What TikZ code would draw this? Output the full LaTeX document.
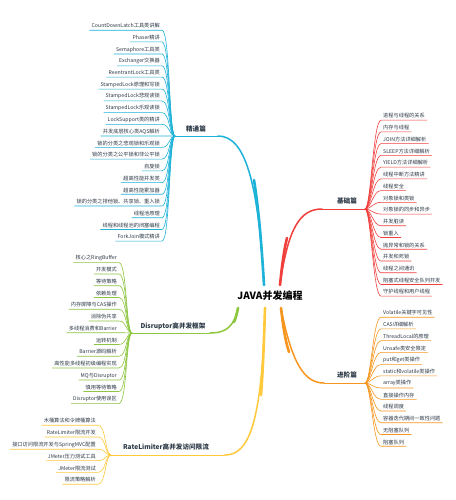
\documentclass[tikz,border=0pt]{standalone}
\usepackage{fontspec}
\setmainfont{Noto Sans CJK SC}
\definecolor{cblue}{HTML}{1DB2D8}
\definecolor{cred}{HTML}{F0403C}
\definecolor{corange}{HTML}{F7961E}
\definecolor{cgreen}{HTML}{8DC63F}
\definecolor{cyellow}{HTML}{FFC93C}
\definecolor{ctext}{HTML}{2E3A48}
\tikzset{
  itembox/.style={inner xsep=2pt,inner ysep=1.6pt,text=ctext,font=\fontsize{5.2}{6}\selectfont},
  labelbox/.style={inner sep=1pt,text=ctext,font=\fontsize{6.6}{8}\selectfont\bfseries},
  rootbox/.style={inner sep=1pt,text=black,font=\fontsize{10}{12}\selectfont\bfseries},
  itemline/.style={line width=0.6pt},
  mainline/.style={line width=1.5pt,line cap=round},
  thickpart/.style={line width=2.6pt,line cap=round},
  subline/.style={line width=0.9pt}
}
\begin{document}
\begin{tikzpicture}[x=1pt,y=-1pt]
\useasboundingbox[fill=white] (0,0) rectangle (455,500);
% root
\node[rootbox] (root) at (270,296) {JAVA并发编程};
\coordinate (sJT) at (264,285);
\coordinate (sJC) at (280,285);
\coordinate (sJJ) at (281,308);
\coordinate (sDR) at (238,308);
\coordinate (sRL) at (265,308);
% hubs
\coordinate (hubJT) at (175,136);
\coordinate (hubJC) at (365,209);
\coordinate (hubJJ) at (365,383);
\coordinate (hubDR) at (132,333);
\coordinate (hubRL) at (111,455);
\coordinate (eJT) at (218,136);
\coordinate (eJC) at (322,209);
\coordinate (eJJ) at (324,383);
\coordinate (eDR) at (210,333);
\coordinate (eRL) at (225,455);
% branch labels
\node[labelbox] (lJT) at (196,129) {精通篇};
\node[labelbox] (lJC) at (347,201) {基础篇};
\node[labelbox] (lJJ) at (347,375) {进阶篇};
\node[labelbox] (lDR) at (173,326) {Disruptor高并发框架};
\node[labelbox] (lRL) at (166,447) {RateLimiter高并发访问限流};
% main branches
\draw[cblue,mainline] (sJT) .. controls (258,180) and (245,136) .. (eJT);
\draw[cblue,thickpart] (sJT) .. controls (261,235) and (258,205) .. (254,180);
\draw[cblue,subline] (eJT) -- (hubJT);
\draw[cred,mainline] (sJC) .. controls (288,228) and (300,209) .. (eJC);
\draw[cred,thickpart] (sJC) .. controls (282,265) and (284,250) .. (287,238);
\draw[cred,subline] (eJC) -- (hubJC);
\draw[corange,mainline] (sJJ) .. controls (292,365) and (305,383) .. (eJJ);
\draw[corange,thickpart] (sJJ) .. controls (283,325) and (285,340) .. (289,352);
\draw[corange,subline] (eJJ) -- (hubJJ);
\draw[cgreen,mainline] (sDR) .. controls (234,325) and (228,333) .. (eDR);
\draw[cgreen,thickpart] (sDR) .. controls (237,313) and (236,318) .. (234,322);
\draw[cgreen,subline] (eDR) -- (hubDR);
\draw[cyellow,mainline] (sRL) .. controls (262,420) and (250,455) .. (eRL);
\draw[cyellow,thickpart] (sRL) .. controls (264,340) and (263,370) .. (261,395);
\draw[cyellow,subline] (eRL) -- (hubRL);
% 精通篇 items
\foreach \t [count=\i from 0] in {{CountDownLatch工具类讲解},{Phaser精讲},{Semaphore工具类},{Exchanger交换器},{ReentrantLock工具类},{StampedLock原理和写锁},{StampedLock悲观读锁},{StampedLock乐观读锁},{LockSupport类的精讲},{并发底层核心类AQS解析},{锁的分类之悲观锁和乐观锁},{锁的分类之公平锁和非公平锁},{自旋锁},{超高性能并发类},{超高性能累加器},{锁的分类之排他锁、共享锁、重入锁},{线程池原理},{线程和线程池的闭塞编程},{ForkJoin模式精讲}}{
  \node[itembox,anchor=east] (jt\i) at (162,26+\i*11.72) {\t};
  \draw[cblue,itemline] (jt\i.south west) -- (jt\i.south east) .. controls +(8,0) and +(-6,0) .. (hubJT);
}
% 基础篇 items
\foreach \t [count=\i from 0] in {{进程与线程的关系},{内存与线程},{JOIN方法详细解析},{SLEEP方法详细解析},{YIELD方法详细解析},{线程中断方法精讲},{线程安全},{对象锁和类锁},{对象锁的同步和异步},{并发脏读},{锁重入},{抛异常和锁的关系},{并发和死锁},{线程之间通讯},{阻塞式线程安全队列开发},{守护线程和用户线程}}{
  \node[itembox,anchor=west] (jc\i) at (381,116+\i*11.73) {\t};
  \draw[cred,itemline] (hubJC) .. controls +(6,0) and +(-8,0) .. (jc\i.south west) -- (jc\i.south east);
}
% 进阶篇 items
\foreach \t [count=\i from 0] in {{Volatile关键字可见性},{CAS详细解析},{ThreadLocal的原理},{Unsafe类安全限定},{put和get类操作},{static和volatile类操作},{array类操作},{直接操作内存},{线程调度},{容器迭代期间一致性问题},{无阻塞队列},{阻塞队列}}{
  \node[itembox,anchor=west] (jj\i) at (381,313+\i*11.73) {\t};
  \draw[corange,itemline] (hubJJ) .. controls +(6,0) and +(-8,0) .. (jj\i.south west) -- (jj\i.south east);
}
% Disruptor items
\foreach \t [count=\i from 0] in {{核心之RingBuffer},{开发模式},{等待策略},{依赖处理},{内存屏障与CAS操作},{消除伪共享},{多线程消费和Barrier},{运转机制},{Barrier源码解析},{高性能多线程初级编程实现},{MQ与Disruptor},{慎用等待策略},{Disruptor使用误区}}{
  \node[itembox,anchor=east] (dr\i) at (119,258+\i*11.75) {\t};
  \draw[cgreen,itemline] (dr\i.south west) -- (dr\i.south east) .. controls +(8,0) and +(-6,0) .. (hubDR);
}
% RateLimiter items
\foreach \t [count=\i from 0] in {{木桶算法和令牌桶算法},{RateLimiter限流开发},{接口访问限流开发与SpringMVC配置},{JMeter压力测试工具},{JMeter限流测试},{限流策略解析}}{
  \node[itembox,anchor=east] (rl\i) at (98,421+\i*11.8) {\t};
  \draw[cyellow,itemline] (rl\i.south west) -- (rl\i.south east) .. controls +(8,0) and +(-6,0) .. (hubRL);
}
\end{tikzpicture}
\end{document}
